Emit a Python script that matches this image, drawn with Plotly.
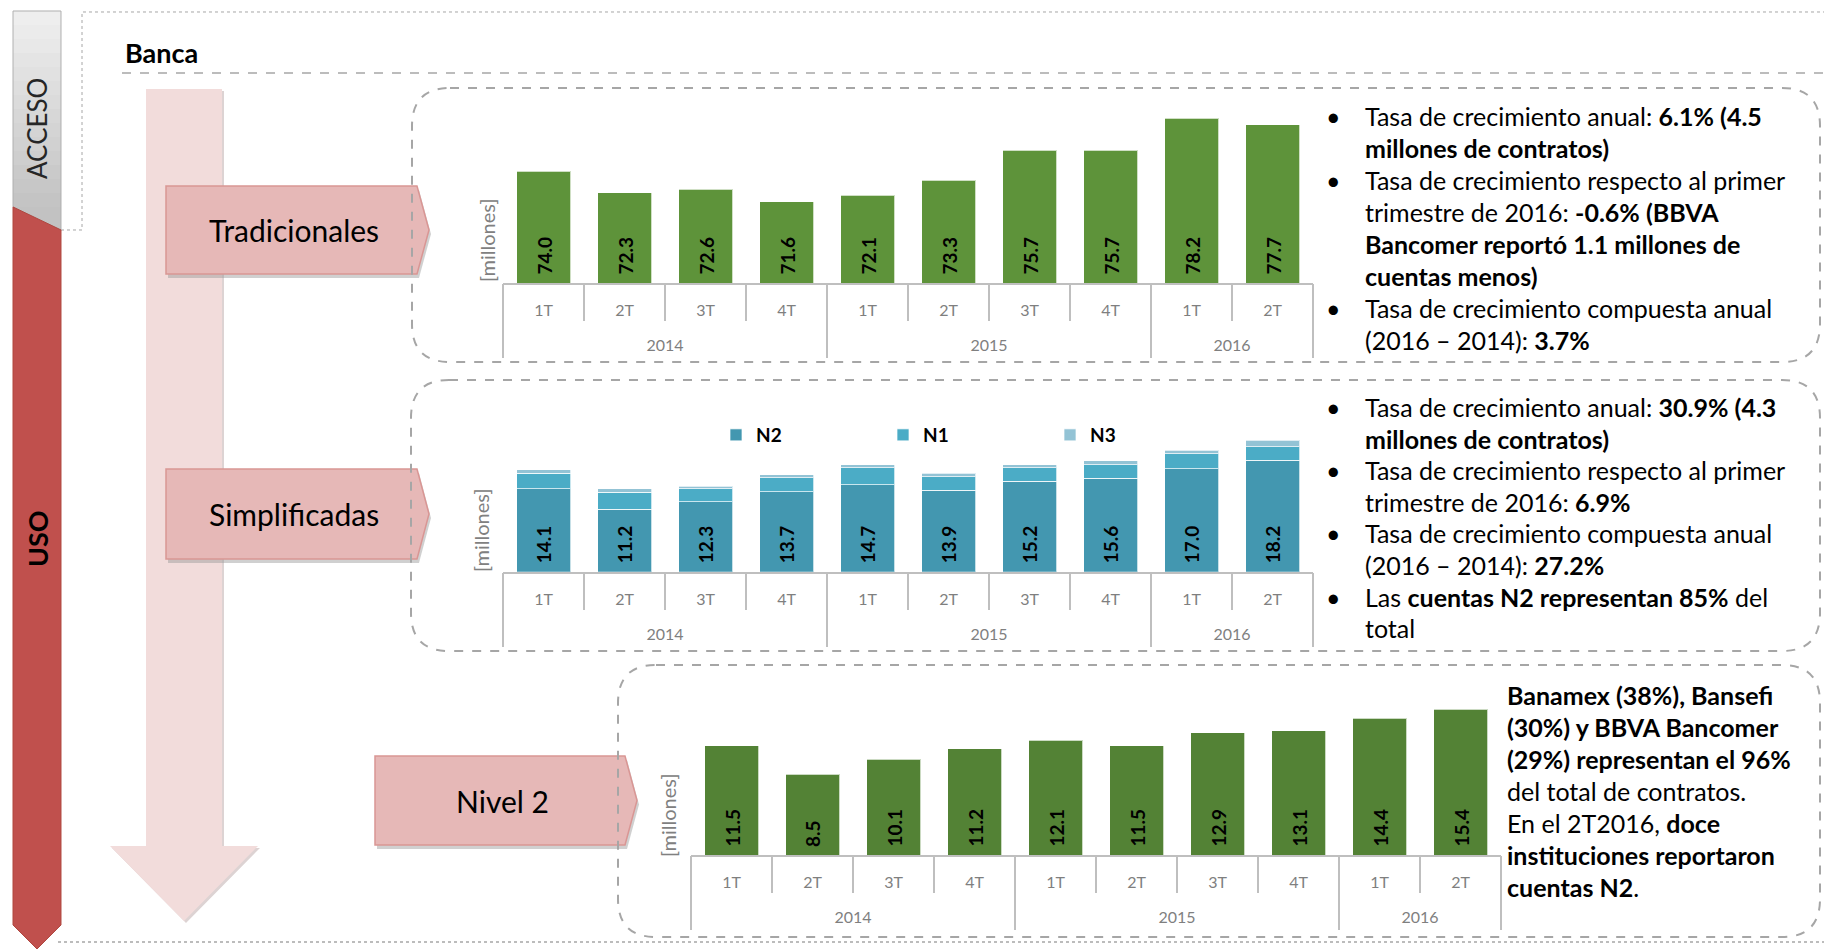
import plotly.graph_objects as go

W, H = 1824, 949
FONT = "Lato, 'Open Sans', sans-serif"

# ---------------- data ----------------
quarters = ["1T", "2T", "3T", "4T", "1T", "2T", "3T", "4T", "1T", "2T"]
years = ["2014", "2015", "2016"]
year_quarter_counts = [4, 4, 2]

tradicionales = [74.0, 72.3, 72.6, 71.6, 72.1, 73.3, 75.7, 75.7, 78.2, 77.7]
simp_n2 = [14.1, 11.2, 12.3, 13.7, 14.7, 13.9, 15.2, 15.6, 17.0, 18.2]
simp_n1 = [2.2, 2.4, 1.8, 2.0, 2.4, 1.9, 1.9, 1.9, 2.1, 1.9]
simp_n3 = [0.5, 0.5, 0.4, 0.4, 0.4, 0.5, 0.4, 0.6, 0.5, 0.9]
nivel2 = [11.5, 8.5, 10.1, 11.2, 12.1, 11.5, 12.9, 13.1, 14.4, 15.4]

series_names = ["N2", "N1", "N3"]

panel1_lines = [
    (True, "Tasa de crecimiento anual: <b>6.1% (4.5</b>"),
    (False, "<b>millones de contratos)</b>"),
    (True, "Tasa de crecimiento respecto al primer"),
    (False, "trimestre de 2016: <b>-0.6% (BBVA</b>"),
    (False, "<b>Bancomer reportó 1.1 millones de</b>"),
    (False, "<b>cuentas menos)</b>"),
    (True, "Tasa de crecimiento compuesta anual"),
    (False, "(2016 – 2014): <b>3.7%</b>"),
]
panel2_lines = [
    (True, "Tasa de crecimiento anual: <b>30.9% (4.3</b>"),
    (False, "<b>millones de contratos)</b>"),
    (True, "Tasa de crecimiento respecto al primer"),
    (False, "trimestre de 2016: <b>6.9%</b>"),
    (True, "Tasa de crecimiento compuesta anual"),
    (False, "(2016 – 2014): <b>27.2%</b>"),
    (True, "Las <b>cuentas N2 representan 85%</b> del"),
    (False, "total"),
]
panel3_lines = [
    (False, "<b>Banamex (38%), Bansefi</b>"),
    (False, "<b>(30%) y BBVA Bancomer</b>"),
    (False, "<b>(29%) representan el 96%</b>"),
    (False, "del total de contratos."),
    (False, "En el 2T2016, <b>doce</b>"),
    (False, "<b>instituciones reportaron</b>"),
    (False, "<b>cuentas N2</b>."),
]

# ---------------- helpers ----------------
def px(x):
    return x / W


def py(y):
    return 1 - y / H


def poly(points, close=True):
    s = "M " + " L ".join(f"{px(x):.5f},{py(y):.5f}" for x, y in points)
    return s + (" Z" if close else "")


def rrect(x0, y0, x1, y1, r):
    P = lambda x, y: f"{px(x):.5f},{py(y):.5f}"
    return (f"M {P(x0 + r, y0)} L {P(x1 - r, y0)} Q {P(x1, y0)} {P(x1, y0 + r)} "
            f"L {P(x1, y1 - r)} Q {P(x1, y1)} {P(x1 - r, y1)} L {P(x0 + r, y1)} "
            f"Q {P(x0, y1)} {P(x0, y1 - r)} L {P(x0, y0 + r)} Q {P(x0, y0)} {P(x0 + r, y0)} Z")


def hexmix(c1, c2, t):
    a = [int(c1[i:i + 2], 16) for i in (1, 3, 5)]
    b = [int(c2[i:i + 2], 16) for i in (1, 3, 5)]
    return "#" + "".join(f"{round(a[k] + (b[k] - a[k]) * t):02x}" for k in range(3))


def axn(p, n):
    return p if n == 1 else f"{p}{n}"


def layk(p, n):
    return f"{p}axis" if n == 1 else f"{p}axis{n}"


def note(x, y, text, size, color="black", xanchor="center", yanchor="middle", angle=0):
    return dict(x=px(x), y=py(y), xref="paper", yref="paper", text=text, showarrow=False,
                xanchor=xanchor, yanchor=yanchor, textangle=angle,
                font=dict(size=size, color=color, family=FONT))


idx = list(range(len(quarters)))
bounds = [-0.5]
for c in year_quarter_counts:
    bounds.append(bounds[-1] + c)
year_centers = [(bounds[i] + bounds[i + 1]) / 2 for i in range(len(years))]
inner_bounds = [i + 0.5 for i in idx[:-1] if (i + 0.5) not in bounds]

fig = go.Figure()
layout = {}
shapes = []
annotations = []

# chart geometry (pixels)
charts = [
    dict(x0=503, x1=1313, base=283, top=95, ymin=65.17, k=12.63, labels=tradicionales),
    dict(x0=503, x1=1313, base=571.7, top=395, ymin=2.32, k=7.03, labels=simp_n2),
    dict(x0=691, x1=1501, base=855, top=690, ymin=0.0, k=9.48, labels=nivel2),
]

tick_col = "#BFBFBF"
lab_col = "#7F7F7F"

for c, g in enumerate(charts):
    yn = c + 1
    main, inner, yt, yl = 4 * c + 1, 4 * c + 2, 4 * c + 3, 4 * c + 4
    ymax = g["ymin"] + (g["base"] - g["top"]) / g["k"]
    dom = [px(g["x0"]), px(g["x1"])]
    layout[layk("y", yn)] = dict(domain=[py(g["base"]), py(g["top"])],
                                 range=[g["ymin"], ymax], visible=False)
    common = dict(domain=dom, anchor=axn("y", yn), range=[-0.5, len(idx) - 0.5],
                  showgrid=False, zeroline=False)
    layout[layk("x", main)] = dict(common, tickvals=idx, ticktext=quarters, ticks="",
                                   showline=True, linecolor=tick_col, linewidth=2,
                                   tickfont=dict(size=16, color=lab_col, family=FONT),
                                   ticklabelstandoff=12)
    layout[layk("x", inner)] = dict(common, overlaying=axn("x", main), tickvals=inner_bounds,
                                    ticks="outside", ticklen=37, tickcolor=tick_col,
                                    tickwidth=1.5, showticklabels=False, showline=False)
    layout[layk("x", yt)] = dict(common, overlaying=axn("x", main), tickvals=bounds,
                                 ticks="outside", ticklen=74, tickcolor=tick_col,
                                 tickwidth=1.5, showticklabels=False, showline=False)
    layout[layk("x", yl)] = dict(common, overlaying=axn("x", main), tickvals=year_centers,
                                 ticktext=years, ticks="", showline=False,
                                 tickfont=dict(size=16, color=lab_col, family=FONT),
                                 ticklabelstandoff=51)
    for extra in (inner, yt, yl):
        fig.add_trace(go.Scatter(x=[None], y=[None], xaxis=axn("x", extra),
                                 yaxis=axn("y", yn), showlegend=False, hoverinfo="skip"))
    # value labels at the base of each bar (vertical, bold)
    for i, v in zip(idx, g["labels"]):
        annotations.append(dict(x=i, y=g["ymin"], xref=axn("x", main), yref=axn("y", yn),
                                text=f"<b>{v:.1f}</b>", textangle=-90, showarrow=False,
                                xanchor="center", yanchor="bottom", yshift=6,
                                font=dict(size=19, color="black", family=FONT)))

bar_line = dict(color="rgba(255,255,255,0.7)", width=1)

fig.add_trace(go.Bar(x=idx, y=tradicionales, xaxis="x", yaxis="y",
                     marker=dict(color="#5E933A", line=bar_line),
                     textposition="none", showlegend=False))

simp_colors = ["#4397B0", "#4BACC6", "#93C3D5"]
for name, vals, col in zip(series_names, [simp_n2, simp_n1, simp_n3], simp_colors):
    fig.add_trace(go.Bar(x=idx, y=vals, name=name, xaxis="x5", yaxis="y2",
                         marker=dict(color=col, line=bar_line), textposition="none",
                         showlegend=True))

fig.add_trace(go.Bar(x=idx, y=nivel2, xaxis="x9", yaxis="y3",
                     marker=dict(color="#538235", line=bar_line),
                     textposition="none", showlegend=False))

# ---------------- decoration ----------------
def add_shape(path, fill=None, line_col=None, lw=0, dash=None):
    d = dict(type="path", path=path, xref="paper", yref="paper", layer="below",
             fillcolor=fill if fill else "rgba(0,0,0,0)",
             line=dict(color=line_col if line_col else "rgba(0,0,0,0)", width=lw))
    if dash:
        d["line"]["dash"] = dash
    shapes.append(d)

# outer dotted frame
add_shape(poly([(61, 230), (82, 230), (82, 12), (1830, 12)], close=False), line_col="#A6A6A6", lw=1, dash="dot")
add_shape(poly([(58, 942), (1830, 942)], close=False), line_col="#A6A6A6", lw=1.5, dash="dot")
# Banca underline
add_shape(poly([(122, 73), (1830, 73)], close=False), line_col="#A6A6A6", lw=1.5, dash="dash")

# ACCESO grey tab with gradient
nb = 14
for i in range(nb):
    ya = 11 + (207 - 11) * i / nb
    yb = 11 + (207 - 11) * (i + 1) / nb + 0.6
    col = hexmix("#EEEEEE", "#C4C4C4", i / (nb - 1))
    add_shape(poly([(13, ya), (61, ya), (61, yb), (13, yb)]), fill=col)
add_shape(poly([(13, 207), (61, 207), (61, 230)]), fill="#C2C2C2")
add_shape(poly([(13, 11), (61, 11), (61, 230), (13, 207)]), line_col="#B0B0B0", lw=1)
# USO red strip
add_shape(poly([(13, 207), (61, 230), (61, 925), (37, 949), (13, 925)]), fill="#C0504D",
          line_col="#B0463F", lw=1)

# pink down arrow (shadow + body)
arrow = [(146, 89), (222, 89), (222, 846), (258, 846), (184, 921), (110, 846), (146, 846)]
add_shape(poly([(x + 2, y + 2) for x, y in arrow]), fill="#DDD3D3")
add_shape(poly(arrow), fill="#F2DCDB")

# chevron labels
def chevron(x0, y0, x1, y1, tip=12):
    ym = (y0 + y1) / 2
    return [(x0, y0), (x1 - tip, y0), (x1, ym), (x1 - tip, y1), (x0, y1)]

chevs = [
    ("Tradicionales", chevron(166, 186, 429, 274)),
    ("Simplificadas", chevron(166, 469, 429, 559)),
    ("Nivel 2", chevron(375, 756, 637, 845)),
]
for label, pts in chevs:
    add_shape(poly([(x + 2, y + 4) for x, y in pts]), fill="rgba(150,150,150,0.45)")
    add_shape(poly(pts), fill="#E6B8B7", line_col="#D99694", lw=1.5)
    xs = [p[0] for p in pts]
    ys = [p[1] for p in pts]
    annotations.append(note((min(xs) + max(xs) - 12) / 2 + 2, (min(ys) + max(ys)) / 2, label, 30))

# dashed rounded panels
add_shape(rrect(412, 88, 1820, 362, 38), line_col="#A6A6A6", lw=2, dash="dash")
add_shape(rrect(411, 380, 1820, 651, 38), line_col="#A6A6A6", lw=2, dash="dash")
add_shape(rrect(618, 665, 1820, 937, 38), line_col="#A6A6A6", lw=2, dash="dash")

# ---------------- texts ----------------
annotations.append(note(123, 52, "<b>Banca</b>", 27, xanchor="left"))
annotations.append(note(37, 129, "ACCESO", 26, color="#262626", angle=-90))
annotations.append(note(37, 539, "<b>USO</b>", 27, angle=-90))

for (xx, yy) in [(487, 240), (481, 530), (668, 815)]:
    annotations.append(note(xx, yy, "[millones]", 20, color="#808080", angle=-90))


def text_block(lines, x_text, y0, step, bullet_x=None):
    for i, (bul, txt) in enumerate(lines):
        y = y0 + i * step
        annotations.append(note(x_text, y, txt, 25, xanchor="left"))
        if bul and bullet_x is not None:
            annotations.append(note(bullet_x, y, "•", 25))


text_block(panel1_lines, 1363, 116, 32.0, bullet_x=1333)
text_block(panel2_lines, 1363, 407, 31.6, bullet_x=1333)
text_block(panel3_lines, 1505, 695, 32.0)

layout.update(dict(
    width=W, height=H, margin=dict(l=0, r=0, t=0, b=0),
    paper_bgcolor="white", plot_bgcolor="rgba(0,0,0,0)",
    barmode="stack", bargap=1 - 54 / 81,
    font=dict(family=FONT),
    hovermode=False,
    shapes=shapes, annotations=annotations,
    legend=dict(orientation="h", x=px(716), y=py(435), xanchor="left", yanchor="middle",
                traceorder="normal", entrywidth=122, entrywidthmode="pixels",
                bgcolor="rgba(0,0,0,0)",
                font=dict(size=19, color="black", family=FONT, weight="bold"),
                itemclick=False, itemdoubleclick=False),
))
fig.update_layout(**layout)
fig.write_html("out.html", config={"displayModeBar": False, "staticPlot": True},
               post_script="document.body.style.margin='0';document.body.style.overflow='hidden';")
